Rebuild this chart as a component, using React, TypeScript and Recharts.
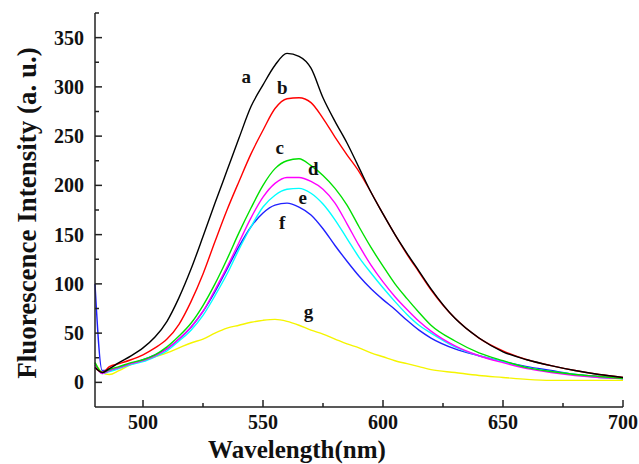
import { LineChart, Line, XAxis, YAxis, ReferenceDot, Label } from 'recharts';

// wavelength (nm) sampled along the emission spectra
const wavelengths = [
  480, 483, 486, 490, 495, 500, 505, 510, 515, 520, 525, 530, 535, 540, 545, 550, 555, 560, 565,
  570, 575, 580, 585, 590, 595, 600, 605, 610, 615, 620, 630, 640, 650, 660, 670, 680, 690, 700,
];

const curveA = [
  15, 10, 14, 20, 27, 35, 46, 62, 86, 115, 148, 182, 215, 248, 280, 302, 322, 334, 331,
  319, 289, 265, 243, 218, 193, 171, 150, 131, 113, 95, 65, 45, 31, 23, 17, 12, 8, 5,
];
const curveB = [
  15, 10, 16, 19, 23, 28, 35, 44, 59, 82, 110, 143, 175, 204, 232, 256, 278, 288, 289,
  284, 268, 249, 231, 214, 193, 171, 150, 130, 112, 94, 65, 45, 32, 23, 17, 12, 8, 5,
];
const curveC = [
  20, 10, 13, 16, 20, 23, 28, 36, 47, 60, 78, 100, 125, 152, 177, 200, 217, 225, 227,
  220, 210, 197, 180, 158, 137, 118, 100, 85, 71, 58, 42, 30, 22, 15, 11, 8, 6, 4,
];
const curveD = [
  18, 9, 12, 15, 19, 22, 27, 34, 44, 56, 72, 94, 117, 142, 167, 188, 202, 208, 208,
  204, 196, 182, 161, 139, 119, 102, 87, 74, 62, 52, 37, 27, 20, 14, 10, 7, 5, 4,
];
const curveE = [
  20, 9, 11, 14, 18, 21, 26, 32, 42, 53, 68, 88, 110, 135, 158, 178, 190, 196, 197,
  192, 181, 165, 146, 127, 111, 96, 82, 69, 58, 50, 36, 27, 21, 15, 11, 8, 5, 4,
];
const curveF = [
  100, 12, 12, 15, 19, 23, 28, 34, 44, 56, 72, 92, 115, 138, 158, 172, 180, 182, 178,
  170, 156, 139, 123, 108, 95, 84, 74, 63, 53, 45, 34, 27, 21, 16, 12, 8, 6, 4,
];
const curveG = [
  20, 10, 8, 12, 18, 22, 26, 30, 35, 40, 44, 50, 55, 58, 61, 63, 64, 62, 58,
  53, 49, 44, 39, 35, 30, 26, 22, 19, 16, 13, 10, 7, 5, 3, 2, 2, 2, 2,
];

const seriesKeys = ['a', 'b', 'c', 'd', 'e', 'f', 'g'];
const seriesValues = [curveA, curveB, curveC, curveD, curveE, curveF, curveG];
const seriesColors = ['#000000', '#ff0000', '#00e000', '#ff00ff', '#00ffff', '#2020ff', '#f5f500'];

// where the letter for each curve sits (data coordinates)
const curveTags = [
  { key: 'a', wl: 543, val: 311 },
  { key: 'b', wl: 558, val: 300 },
  { key: 'c', wl: 557, val: 239 },
  { key: 'd', wl: 571, val: 217 },
  { key: 'e', wl: 566.5, val: 188 },
  { key: 'f', wl: 558, val: 162 },
  { key: 'g', wl: 569, val: 72 },
];

const xTicks = [500, 525, 550, 575, 600, 625, 650, 675, 700];
const xMajor = [500, 550, 600, 650, 700];
const yTicks = [0, 25, 50, 75, 100, 125, 150, 175, 200, 225, 250, 275, 300, 325, 350, 375];
const yMajor = [0, 50, 100, 150, 200, 250, 300, 350];

const chartData = wavelengths.map((wl, i) => {
  const row: Record<string, number> = { wl };
  seriesKeys.forEach((k, s) => {
    row[k] = seriesValues[s][i];
  });
  return row;
});

const serif = '"Liberation Serif", "DejaVu Serif", serif';
const axisColor = '#222';

function XTick({ x, y, payload }: any) {
  const major = xMajor.includes(payload.value);
  return (
    <g>
      <line x1={x} x2={x} y1={y} y2={y - (major ? 7 : 4)} stroke={axisColor} strokeWidth={1.5} />
      {major && (
        <text x={x} y={y + 22} textAnchor="middle" fill="#111" fontFamily={serif} fontWeight="bold" fontSize={20}>
          {payload.value}
        </text>
      )}
    </g>
  );
}

function YTick({ x, y, payload }: any) {
  const major = yMajor.includes(payload.value);
  return (
    <g>
      <line x1={x} x2={x + (major ? 7 : 4)} y1={y} y2={y} stroke={axisColor} strokeWidth={1.5} />
      {major && (
        <text x={x - 11} y={y} dy="0.35em" textAnchor="end" fill="#111" fontFamily={serif} fontWeight="bold" fontSize={20}>
          {payload.value}
        </text>
      )}
    </g>
  );
}

export default function App() {
  return (
    <div style={{ position: 'absolute', left: 0, top: 0, background: '#fff' }}>
      <LineChart width={639} height={464} data={chartData} margin={{ top: 13, right: 16, left: 0, bottom: 0 }}>
        <XAxis
          type="number"
          dataKey="wl"
          domain={[480, 700]}
          ticks={xTicks}
          interval={0}
          tick={(p: any) => <XTick {...p} />}
          tickLine={false}
          tickSize={0}
          tickMargin={0}
          height={57}
          axisLine={{ stroke: axisColor, strokeWidth: 1.5 }}
        >
          <Label
            content={() => (
              <text x={297} y={458} textAnchor="middle" fill="#111" fontFamily={serif} fontWeight="bold" fontSize={25}>
                Wavelength(nm)
              </text>
            )}
          />
        </XAxis>
        <YAxis
          type="number"
          domain={[-25, 375]}
          ticks={yTicks}
          interval={0}
          tick={(p: any) => <YTick {...p} />}
          tickLine={false}
          tickSize={0}
          tickMargin={0}
          width={95}
          axisLine={{ stroke: axisColor, strokeWidth: 1.5 }}
        >
          <Label
            content={() => (
              <text
                transform="translate(36, 213) rotate(-90)"
                textAnchor="middle"
                fill="#111"
                fontFamily={serif}
                fontWeight="bold"
                fontSize={27}
              >
                Fluorescence Intensity (a. u.)
              </text>
            )}
          />
        </YAxis>
        {seriesKeys
          .slice()
          .reverse()
          .map((k) => {
            const idx = seriesKeys.indexOf(k);
            return (
              <Line
                key={k}
                type="monotone"
                dataKey={k}
                stroke={seriesColors[idx]}
                strokeWidth={1.4}
                dot={false}
                isAnimationActive={false}
              />
            );
          })}
        {curveTags.map((t) => (
          <ReferenceDot
            key={t.key}
            x={t.wl}
            y={t.val}
            r={0}
            shape={(p: any) => (
              <text x={p.cx} y={p.cy} dy="0.35em" textAnchor="middle" fill="#111" fontFamily={serif} fontWeight="bold" fontSize={19}>
                {t.key}
              </text>
            )}
          />
        ))}
      </LineChart>
    </div>
  );
}
